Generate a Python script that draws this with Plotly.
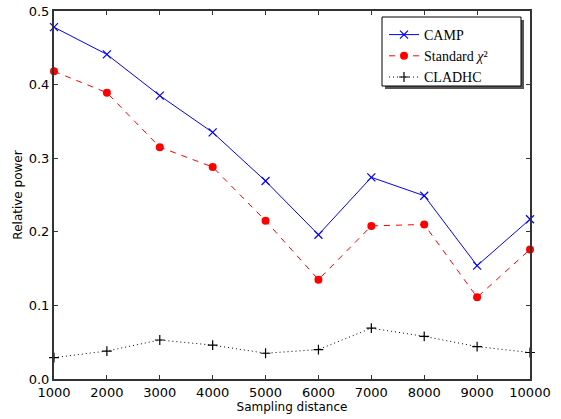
import plotly.graph_objects as go

x_vals = [1000, 2000, 3000, 4000, 5000, 6000, 7000, 8000, 9000, 10000]
camp = [0.478, 0.441, 0.385, 0.335, 0.269, 0.196, 0.274, 0.249, 0.154, 0.217]
standard = [0.418, 0.389, 0.315, 0.288, 0.215, 0.135, 0.208, 0.210, 0.111, 0.176]
cladhc = [0.029, 0.038, 0.053, 0.046, 0.035, 0.040, 0.069, 0.058, 0.044, 0.036]
y_ticks = [0.0, 0.1, 0.2, 0.3, 0.4, 0.5]

fig = go.Figure()
fig.add_trace(go.Scatter(x=x_vals, y=camp, name="CAMP", mode="lines+markers",
                         line=dict(color="blue", width=1),
                         marker=dict(symbol="x-thin", size=8, line=dict(color="blue", width=1.2)),
                         cliponaxis=False))
fig.add_trace(go.Scatter(x=x_vals, y=standard,
                         name="Standard <i>χ</i>²",
                         mode="lines+markers",
                         line=dict(color="red", width=1, dash="6px,6px"),
                         marker=dict(symbol="circle", size=8, color="red"),
                         cliponaxis=False))
fig.add_trace(go.Scatter(x=x_vals, y=cladhc, name="CLADHC", mode="lines+markers",
                         line=dict(color="black", width=1, dash="1px,3px"),
                         marker=dict(symbol="cross-thin", size=7, line=dict(color="black", width=1.2)),
                         cliponaxis=False))

axis_common = dict(showline=True, linecolor="#333", linewidth=2, mirror="allticks",
                   ticks="inside", ticklen=4, tickcolor="#333", showgrid=False, zeroline=False,
                   automargin=False,
                   tickfont=dict(family="DejaVu Sans", size=13, color="black"))

fig.update_xaxes(range=[1000, 10000], tickvals=x_vals, ticktext=[str(v) for v in x_vals],
                 title=dict(text="Sampling distance", font=dict(family="DejaVu Sans", size=12, color="black"), standoff=1),
                 **axis_common)
fig.update_yaxes(range=[0, 0.5], tickvals=y_ticks, tickformat=".1f",
                 title=dict(text="Relative power", font=dict(family="DejaVu Sans", size=12, color="black"), standoff=4),
                 **axis_common)

PX0, PW, PB, PH = 54, 476, 379, 368
def px(xp):
    return (xp - PX0) / PW
def py(yp):
    return (PB - yp) / PH

# legend shadow and frame (drawn as shapes; the legend itself is transparent)
fig.add_shape(type="rect", xref="paper", yref="paper",
              x0=px(385), x1=px(524), y0=py(89), y1=py(20),
              fillcolor="#555", line=dict(width=0), layer="above")
fig.add_shape(type="rect", xref="paper", yref="paper",
              x0=px(382), x1=px(521), y0=py(86), y1=py(17),
              fillcolor="white", line=dict(color="black", width=1), layer="above")

fig.update_layout(
    width=561, height=419,
    margin=dict(l=54, r=31, t=11, b=40, autoexpand=False),
    plot_bgcolor="white", paper_bgcolor="white",
    showlegend=True,
    legend=dict(x=px(384), y=1 - 19 / 419, yref="container", xanchor="left", yanchor="top",
                bgcolor="rgba(0,0,0,0)", borderwidth=0,
                font=dict(family="Liberation Serif", size=14, color="black"),
                itemwidth=30, tracegroupgap=0),
)

fig.write_html("out.html")
